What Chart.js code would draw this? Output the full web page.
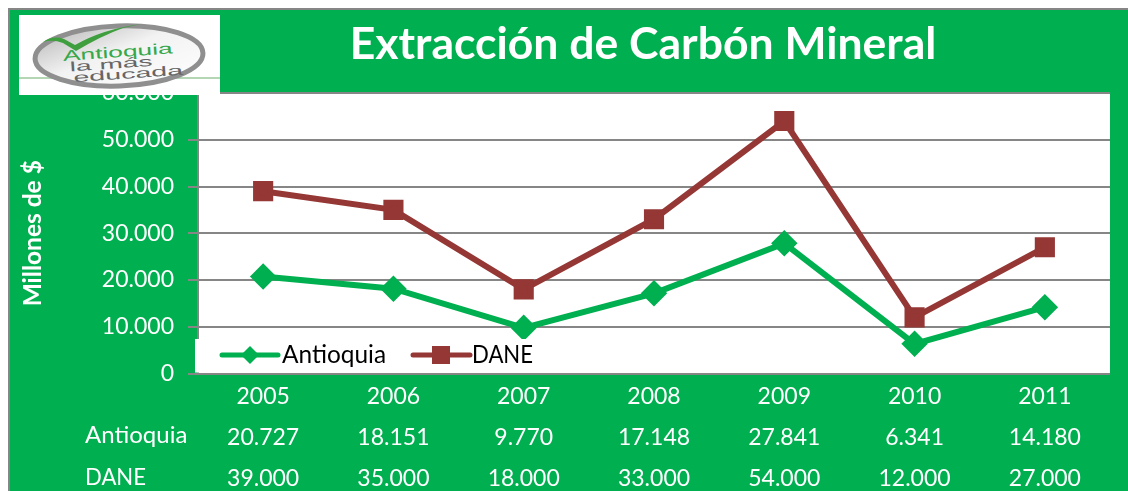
<!DOCTYPE html>
<html><head><meta charset="utf-8">
<style>
html,body{margin:0;padding:0;background:#fff;overflow:hidden}
#wrap{position:relative;width:1128px;height:491px}
canvas{position:absolute;left:0;top:0}
#logo{position:absolute;left:19px;top:15px}
</style>
<script src="https://cdn.jsdelivr.net/npm/chart.js@4/dist/chart.umd.js"></script>
</head><body>
<div id="wrap">
<canvas id="c" width="1128" height="491"></canvas>
<svg id="logo" width="201" height="80" viewBox="0 0 201 80">
<defs><linearGradient id="g" x1="0" y1="0" x2="1" y2="1"><stop offset="0" stop-color="#b4b4b4"/><stop offset="0.45" stop-color="#f2f2f2"/><stop offset="1" stop-color="#ffffff"/></linearGradient></defs>
<rect width="201" height="80" fill="#fff"/>
<rect y="62" width="201" height="2" fill="#b5d6b5"/>
<ellipse cx="100" cy="41" rx="84" ry="30" transform="rotate(-2 100 41)" fill="url(#g)" stroke="#8f8f8f" stroke-width="5"/>
<path d="M24 27 Q34 20 45 24 L56 30 Q84 14 122 9 L104 13 Q82 21 57 36 L44 28 Q34 24 24 27Z" fill="#3f9f3f"/>
<g font-family="Liberation Sans" transform="rotate(-4 100 41)">
<text x="44" y="42" font-size="15" fill="#36a84a" textLength="110" lengthAdjust="spacingAndGlyphs">Antioquia</text>
<text x="50" y="53" font-size="13.5" fill="#666" textLength="83" lengthAdjust="spacingAndGlyphs">la más</text>
<text x="53" y="64" font-size="13.5" fill="#666" textLength="110" lengthAdjust="spacingAndGlyphs">educada</text>
</g>
</svg>
</div>
<script>
const categories = ['2005','2006','2007','2008','2009','2010','2011'];
const antioquia = [20727,18151,9770,17148,27841,6341,14180];
const dane = [39000,35000,18000,33000,54000,12000,27000];
const seriesNames = ['Antioquia','DANE'];
const chartTitle = 'Extracción de Carbón Mineral';
const yTitle = 'Millones de $';
const fmt = v => String(v).replace(/\B(?=(\d{3})+$)/g,'.');
const FONT = 'Lato';
const GREEN='#00B050', BROWN='#953735', GRAY='#868686';

const frame = {
  id:'frame',
  beforeDraw(ch){
    const x=ch.ctx, a=ch.chartArea;
    x.save();
    x.fillStyle='#fff'; x.fillRect(0,0,1128,491);
    x.fillStyle=GRAY; x.fillRect(8,8,1120,483);
    x.fillStyle=GREEN; x.fillRect(10,10,1118,481);
    x.fillStyle='#fff'; x.fillRect(a.left,a.top,a.right-a.left,a.bottom-a.top);
    x.restore();
  },
  afterDraw(ch){
    const x=ch.ctx, a=ch.chartArea;
    x.save();
    x.textBaseline='middle';
    x.fillStyle='#fff';
    x.font='bold 44.5px '+FONT; x.textAlign='center';
    x.fillText(chartTitle,643,45);
    x.font='24px '+FONT; x.textAlign='left';
    x.fillText(seriesNames[0],85,435,104);
    x.fillText(seriesNames[1],85,477,61);
    // legend
    x.fillStyle='#fff'; x.fillRect(195,339,365,a.bottom-339-1);
    const items=[[222,278,250,282,104],[413,470,441,472,61]];
    ch.data.datasets.forEach((d,i)=>{
      const [l,r,m,t,w]=items[i], y=355;
      x.strokeStyle=d.borderColor; x.lineWidth=5; x.lineCap='round';
      x.beginPath(); x.moveTo(l,y); x.lineTo(r,y); x.stroke();
      x.fillStyle=d.borderColor;
      if(i===0){x.beginPath();x.moveTo(m,y-9);x.lineTo(m+9,y);x.lineTo(m,y+9);x.lineTo(m-9,y);x.closePath();x.fill();}
      else x.fillRect(m-9,y-9,18,18);
      x.fillStyle='#000'; x.font='24.5px '+FONT; x.textAlign='left';
      x.fillText(d.label,t,y,w);
    });
    x.restore();
  }
};

new Chart(document.getElementById('c'),{
  type:'line',
  data:{labels:categories,datasets:[
    {label:seriesNames[0],data:antioquia,borderColor:GREEN,backgroundColor:GREEN,borderWidth:6,pointStyle:'rectRot',pointRadius:9,pointHoverRadius:9,tension:0,order:2},
    {label:seriesNames[1],data:dane,borderColor:BROWN,backgroundColor:BROWN,borderWidth:6,pointStyle:'rect',pointRadius:10,pointHoverRadius:10,tension:0,order:1}
  ]},
  options:{
    responsive:false,animation:false,devicePixelRatio:1,
    layout:{padding:{left:0,right:18,top:93,bottom:0}},
    plugins:{legend:{display:false},title:{display:false},tooltip:{enabled:false}},
    scales:{
      x:{
        offset:true,
        grid:{display:false,drawTicks:false},
        border:{display:false},
        afterFit(s){s.height=117.5;},
        ticks:{color:'#fff',padding:2,maxRotation:0,autoSkip:false,
          font:{family:FONT,size:23,lineHeight:1.8},
          callback(v,i){return [categories[i],fmt(antioquia[i]),fmt(dane[i])];}}
      },
      y:{
        min:0,max:60000,
        afterFit(s){s.width=198;},
        grid:{color:GRAY,lineWidth:2,tickLength:10,tickColor:GRAY},
        border:{color:GRAY,width:2},
        title:{display:true,text:yTitle,color:'#fff',font:{family:FONT,size:24.5,weight:'bold'},padding:{top:18,bottom:0}},
        ticks:{color:'#fff',padding:14,stepSize:10000,font:{family:FONT,size:23},callback:v=>fmt(v)}
      }
    }
  },
  plugins:[frame]
});
</script>
</body></html>
